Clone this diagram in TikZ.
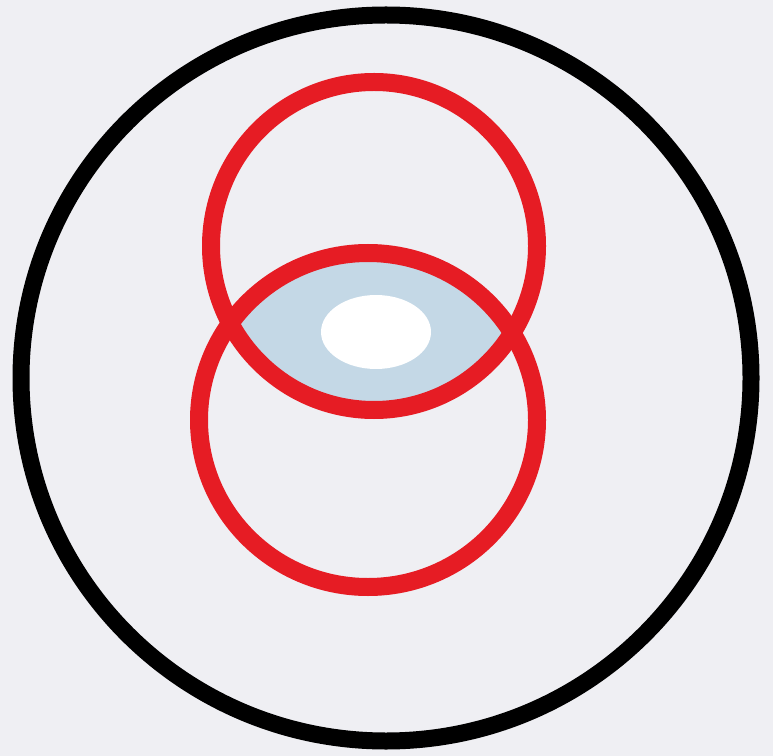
\documentclass[tikz,border=0pt]{standalone}
\begin{document}
\begin{tikzpicture}[x=0.02cm,y=-0.02cm,
  redring/.style={draw={rgb,255:red,230;green,28;blue,36}, line width=18*0.02cm},
  blackring/.style={draw=black, line width=17*0.02cm}]
\definecolor{paper}{RGB}{239,239,243}
\definecolor{lensblue}{RGB}{196,216,230}
\fill[paper] (0,0) rectangle (773,756);
\useasboundingbox (0,0) rectangle (773,756);
\coordinate (ctop) at (374,246);
\coordinate (cbot) at (368,420);
\begin{scope}
  \clip (ctop) ellipse [x radius=163, y radius=164];
  \fill[lensblue] (cbot) ellipse [x radius=169, y radius=167];
\end{scope}
\fill[white] (376,332) ellipse [x radius=55, y radius=37];
\draw[redring] (ctop) ellipse [x radius=163, y radius=164];
\draw[redring] (cbot) ellipse [x radius=169, y radius=167];
\draw[blackring] (386,378) ellipse [x radius=365, y radius=363];
\end{tikzpicture}
\end{document}
